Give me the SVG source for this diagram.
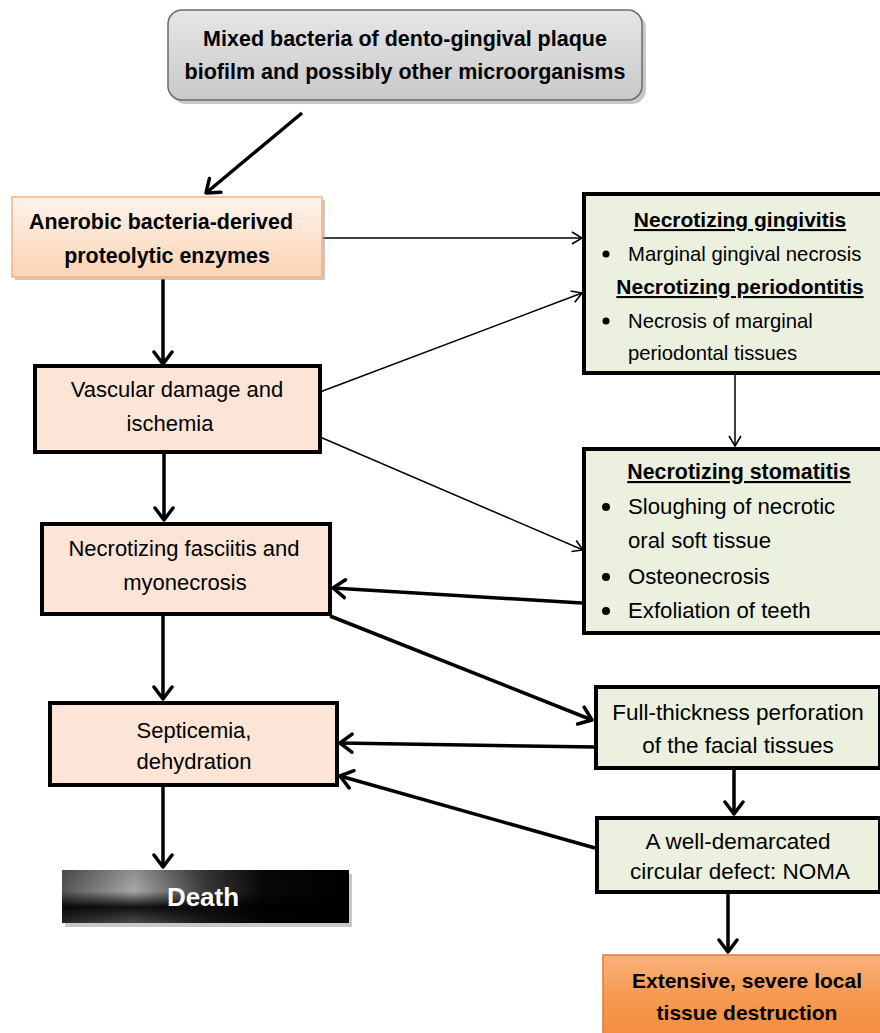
<svg xmlns="http://www.w3.org/2000/svg" width="880" height="1033" viewBox="0 0 880 1033">
<defs>
<style>
text{font-family:"Liberation Sans",Arial,sans-serif;fill:#000;}
.b{font-weight:bold;}
.c{text-anchor:middle;}
.peach{fill:#fce4d6;stroke:#000;stroke-width:4;}
.green{fill:#ebf1de;stroke:#000;stroke-width:4;}
.shadow{fill:#9a9a9a;opacity:0.55;}
.thin{stroke:#000;stroke-width:1.5;fill:none;marker-end:url(#ah1);}
.thick{stroke:#000;stroke-width:3.5;fill:none;marker-end:url(#ah2);}
</style>
<marker id="ah1" viewBox="0 0 12 14" refX="11" refY="7" markerWidth="12" markerHeight="14" markerUnits="userSpaceOnUse" orient="auto">
<path d="M1,1 L11,7 L1,13" fill="none" stroke="#000" stroke-width="1.6"/>
</marker>
<marker id="ah2" viewBox="0 0 16 22" refX="14" refY="11" markerWidth="16" markerHeight="22" markerUnits="userSpaceOnUse" orient="auto">
<path d="M2,2 L14,11 L2,20" fill="none" stroke="#000" stroke-width="3.5" stroke-linecap="round" stroke-linejoin="round"/>
</marker>
<linearGradient id="gGray" x1="0" y1="0" x2="0" y2="1">
<stop offset="0" stop-color="#e6e6e6"/>
<stop offset="1" stop-color="#c9c9c9"/>
</linearGradient>
<linearGradient id="gPeach" x1="0" y1="0" x2="0" y2="1">
<stop offset="0" stop-color="#fef3ec"/>
<stop offset="1" stop-color="#fbd4b4"/>
</linearGradient>
<linearGradient id="gOrange" x1="0" y1="0" x2="0" y2="1">
<stop offset="0" stop-color="#f9b27a"/>
<stop offset="0.5" stop-color="#f79a52"/>
<stop offset="1" stop-color="#f58e3f"/>
</linearGradient>
<linearGradient id="gDeathH" x1="0" y1="0" x2="1" y2="0">
<stop offset="0" stop-color="#555"/>
<stop offset="0.25" stop-color="#a8a8a8"/>
<stop offset="0.5" stop-color="#3a3a3a"/>
<stop offset="0.7" stop-color="#080808"/>
<stop offset="1" stop-color="#000"/>
</linearGradient>
<linearGradient id="gDeathV" x1="0" y1="0" x2="0" y2="1">
<stop offset="0" stop-color="#000" stop-opacity="0.15"/>
<stop offset="0.4" stop-color="#000" stop-opacity="0"/>
<stop offset="0.7" stop-color="#000" stop-opacity="0.9"/>
<stop offset="1" stop-color="#000" stop-opacity="0.55"/>
</linearGradient>
</defs>
<rect width="880" height="1033" fill="#fff"/>

<g id="connectors">
<line class="thick" x1="302" y1="113" x2="206" y2="193"/>
<line class="thin" x1="322" y1="238" x2="582" y2="238"/>
<line class="thick" x1="163" y1="279" x2="163" y2="364"/>
<line class="thin" x1="320" y1="392" x2="582" y2="293"/>
<line class="thin" x1="320" y1="437" x2="583" y2="550"/>
<line class="thin" x1="735" y1="375" x2="735" y2="446"/>
<line class="thick" x1="164" y1="454" x2="164" y2="520"/>
<line class="thick" x1="582" y1="603" x2="333" y2="588"/>
<line class="thick" x1="330" y1="616" x2="592" y2="720"/>
<line class="thick" x1="163" y1="616" x2="163" y2="699"/>
<line class="thick" x1="595" y1="747" x2="340" y2="743"/>
<line class="thick" x1="595" y1="848" x2="340" y2="776"/>
<line class="thick" x1="163" y1="787" x2="163" y2="867"/>
<line class="thick" x1="734" y1="770" x2="734" y2="814"/>
<line class="thick" x1="728" y1="894" x2="728" y2="952"/>
</g>

<g id="n-mixed">
<rect class="shadow" x="172" y="14" width="474" height="90" rx="14"/>
<rect x="168" y="10" width="474" height="90" rx="14" fill="url(#gGray)" stroke="#6b6b6b" stroke-width="1.5"/>
<text class="b c" x="405" y="46" font-size="21.5">Mixed bacteria of dento-gingival plaque</text>
<text class="b c" x="405" y="79" font-size="21.5">biofilm and possibly other microorganisms</text>
</g>

<g id="n-anerobic">
<rect class="shadow" x="15" y="200" width="310" height="80"/>
<rect x="12" y="197" width="310" height="80" fill="url(#gPeach)" stroke="#f4b183" stroke-width="1.5"/>
<text class="b c" x="161" y="229" font-size="21.4">Anerobic bacteria-derived</text>
<text class="b c" x="167" y="263" font-size="21.4">proteolytic enzymes</text>
</g>

<g id="n-vascular">
<rect class="peach" x="35" y="366" width="285" height="86"/>
<text class="c" x="177" y="397" font-size="22">Vascular damage and</text>
<text class="c" x="170" y="431" font-size="22">ischemia</text>
</g>

<g id="n-fasciitis">
<rect class="peach" x="42" y="524" width="288" height="90"/>
<text class="c" x="184" y="556" font-size="22">Necrotizing fasciitis and</text>
<text class="c" x="185" y="590" font-size="22">myonecrosis</text>
</g>

<g id="n-septicemia">
<rect class="peach" x="50" y="703" width="287" height="82"/>
<text class="c" x="194" y="738" font-size="22">Septicemia,</text>
<text class="c" x="194" y="769" font-size="22">dehydration</text>
</g>

<g id="n-death">
<rect class="shadow" x="65" y="874" width="287" height="53"/>
<rect x="62" y="870" width="287" height="53" fill="url(#gDeathH)"/>
<rect x="62" y="870" width="287" height="53" fill="url(#gDeathV)"/>
<text class="b c" x="203" y="906" font-size="26" style="fill:#fff">Death</text>
</g>

<g id="n-gingivitis">
<rect class="green" x="584" y="194" width="300" height="179"/>
<text class="b c" x="740" y="227" font-size="21" text-decoration="underline">Necrotizing gingivitis</text>
<circle cx="606" cy="254" r="3.5"/>
<text x="628" y="261" font-size="20.3">Marginal gingival necrosis</text>
<text class="b c" x="740" y="294" font-size="21" text-decoration="underline">Necrotizing periodontitis</text>
<circle cx="606" cy="321" r="3.5"/>
<text x="628" y="328" font-size="20.3">Necrosis of marginal</text>
<text x="628" y="360" font-size="20.3">periodontal tissues</text>
</g>

<g id="n-stomatitis">
<rect class="green" x="584" y="449" width="300" height="184"/>
<text class="b c" x="739" y="479" font-size="21.4" text-decoration="underline">Necrotizing stomatitis</text>
<circle cx="606" cy="507" r="4"/>
<text x="628" y="514" font-size="22.2">Sloughing of necrotic</text>
<text x="628" y="548" font-size="22.2">oral soft tissue</text>
<circle cx="606" cy="577" r="4"/>
<text x="628" y="584" font-size="22.2">Osteonecrosis</text>
<circle cx="606" cy="611" r="4"/>
<text x="628" y="618" font-size="22.2">Exfoliation of teeth</text>
</g>

<g id="n-perforation">
<rect class="green" x="596" y="687" width="284" height="81"/>
<text class="c" x="738" y="720" font-size="22.5">Full-thickness perforation</text>
<text class="c" x="738" y="753" font-size="22.5">of the facial tissues</text>
</g>

<g id="n-noma">
<rect class="green" x="597" y="818" width="283" height="74"/>
<text class="c" x="738" y="849" font-size="22.5">A well-demarcated</text>
<text class="c" x="740" y="879" font-size="22.5">circular defect: NOMA</text>
</g>

<g id="n-destruction">
<rect x="603" y="955" width="280" height="80" fill="url(#gOrange)" stroke="#e07b2e" stroke-width="1.5"/>
<text class="b c" x="747" y="988" font-size="21">Extensive, severe local</text>
<text class="b c" x="747" y="1020" font-size="21">tissue destruction</text>
</g>
</svg>
